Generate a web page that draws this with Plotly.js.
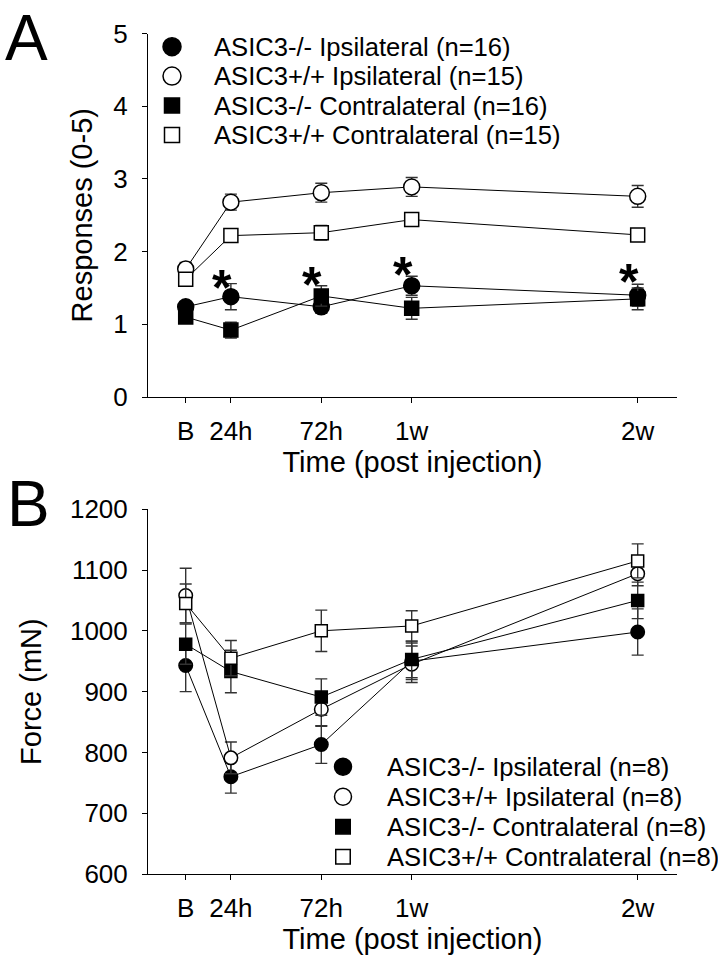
<!DOCTYPE html>
<html><head><meta charset="utf-8">
<script src="https://cdn.plot.ly/plotly-3.0.1.min.js"></script>
<style>html,body{margin:0;padding:0;background:#fff}#chart{width:718px;height:964px}</style>
</head><body><div id="chart"></div>
<script>
// ---------- shared time axis ----------
const timeLabels = ['B', '24h', '72h', '1w', '2w'];
const timePos = [0, 1, 3, 5, 10];

// ---------- Panel A: responses (0-5) ----------
const aNames = ['ASIC3-/- Ipsilateral (n=16)', 'ASIC3+/+ Ipsilateral (n=15)',
                'ASIC3-/- Contralateral (n=16)', 'ASIC3+/+ Contralateral (n=15)'];
const aKoIpsi      = [1.24, 1.38, 1.24, 1.53, 1.40];
const aKoIpsiErr   = [0.07, 0.18, 0.09, 0.13, 0.15];
const aWtIpsi      = [1.76, 2.68, 2.81, 2.89, 2.76];
const aWtIpsiErr   = [0.09, 0.11, 0.13, 0.13, 0.15];
const aKoContra    = [1.10, 0.92, 1.39, 1.22, 1.35];
const aKoContraErr = [0.06, 0.11, 0.14, 0.15, 0.15];
const aWtContra    = [1.62, 2.22, 2.26, 2.44, 2.23];
const aWtContraErr = [0.06, 0.08, 0.10, 0.06, 0.05];
const aStarPos = [1, 3, 5, 10];
const aStarY   = [1.66, 1.70, 1.84, 1.75];

// ---------- Panel B: force (mN) ----------
const bNames = ['ASIC3-/- Ipsilateral (n=8)', 'ASIC3+/+ Ipsilateral (n=8)',
                'ASIC3-/- Contralateral (n=8)', 'ASIC3+/+ Contralateral (n=8)'];
const bKoIpsi      = [943, 760, 813, 950, 998];
const bKoIpsiErr   = [43, 27, 31, 30, 38];
const bWtIpsi      = [1058, 791, 871, 945, 1094];
const bWtIpsiErr   = [45, 26, 28, 30, 20];
const bKoContra    = [978, 933, 891, 953, 1050];
const bKoContraErr = [33, 35, 30, 30, 30];
const bWtContra    = [1045, 955, 1000, 1008, 1115];
const bWtContraErr = [32, 29, 34, 25, 28];

// ---------- styles ----------
const W = 718, H = 964;
const FONT = 'Liberation Sans, Arial, sans-serif';
const symbols = ['circle', 'circle', 'square', 'square'];
const fills = ['#000', '#fff', '#000', '#fff'];

function series(names, vals, errs, xa, ya, circ, sq) {
  return vals.map((v, i) => ({
    type: 'scatter', mode: 'lines+markers', name: names[i],
    x: timePos, y: v, xaxis: xa, yaxis: ya, showlegend: false,
    line: {color: '#000', width: 1},
    marker: {symbol: symbols[i], size: symbols[i] === 'circle' ? circ : sq,
             color: fills[i], line: {color: '#000', width: 1.5}},
    error_y: {type: 'data', array: errs[i], visible: true, color: '#333', thickness: 1.4, width: 6},
    cliponaxis: false
  }));
}

const traces = [].concat(
  series(aNames, [aKoIpsi, aWtIpsi, aKoContra, aWtContra],
         [aKoIpsiErr, aWtIpsiErr, aKoContraErr, aWtContraErr], 'x', 'y', 16, 14),
  series(bNames, [bKoIpsi, bWtIpsi, bKoContra, bWtContra],
         [bKoIpsiErr, bWtIpsiErr, bKoContraErr, bWtContraErr], 'x2', 'y2', 13.5, 12)
);

// ---------- custom legends (layout constants, pixel space overlay) ----------
const legA = {kx: 172, tx: 212, y0: 46.7, dy: 29.4, circ: 18, sq: 15, names: aNames};
const legB = {kx: 343, tx: 385, y0: 766.7, dy: 30, circ: 17, sq: 14.5, names: bNames};
const annotations = [];
[legA, legB].forEach(L => {
  L.names.forEach((nm, i) => {
    traces.push({
      type: 'scatter', mode: 'markers', x: [L.kx], y: [L.y0 + i * L.dy],
      xaxis: 'x3', yaxis: 'y3', showlegend: false, hoverinfo: 'skip',
      marker: {symbol: symbols[i], size: symbols[i] === 'circle' ? L.circ : L.sq,
               color: fills[i], line: {color: '#000', width: 1.5}}
    });
    annotations.push({xref: 'paper', yref: 'paper', x: L.tx / W, y: 1 - (L.y0 + i * L.dy) / H,
      xanchor: 'left', yanchor: 'middle', showarrow: false, text: nm,
      font: {family: FONT, size: 25.6, color: '#000'}});
  });
});

// significance stars (panel A)
aStarPos.forEach((p, i) => {
  annotations.push({xref: 'x', yref: 'y', x: p, y: aStarY[i], text: '<b>*</b>', showarrow: false,
    xanchor: 'center', yanchor: 'middle', xshift: -9, yshift: -12,
    font: {family: FONT, size: 50, color: '#000'}});
});

// panel letters
annotations.push({xref: 'paper', yref: 'paper', x: 26.5 / W, y: 1, text: 'A', showarrow: false,
  xanchor: 'center', yanchor: 'top', font: {family: FONT, size: 64, color: '#000'}});
annotations.push({xref: 'paper', yref: 'paper', x: 28.5 / W, y: 1 - 503.5 / H, text: 'B', showarrow: false,
  xanchor: 'center', yanchor: 'middle', font: {family: FONT, size: 64, color: '#000'}});

function xAxis(anchor) {
  return {
    anchor: anchor, domain: [148 / W, 677 / W], range: [-0.834, 10.87],
    tickmode: 'array', tickvals: timePos, ticktext: timeLabels,
    ticks: 'outside', ticklen: 5, tickwidth: 1, tickcolor: '#000',
    showline: true, linecolor: '#000', linewidth: 1, showgrid: false, zeroline: false,
    tickfont: {family: FONT, size: 26, color: '#000'}, ticklabelstandoff: 6,
    title: {text: 'Time (post injection)', font: {family: FONT, size: 29, color: '#000'}, standoff: 6},
    fixedrange: true, automargin: false
  };
}
function yAxis(anchor, domain, range, dtick, title, standoff) {
  return {
    anchor: anchor, domain: domain, range: range, dtick: dtick, tick0: range[0],
    ticks: 'outside', ticklen: 5, tickwidth: 1, tickcolor: '#000',
    showline: true, linecolor: '#000', linewidth: 1, showgrid: false, zeroline: false,
    tickfont: {family: FONT, size: 26, color: '#000'}, ticklabelstandoff: 9,
    title: {text: title, font: {family: FONT, size: 29, color: '#000'}, standoff: standoff},
    fixedrange: true, automargin: false
  };
}

const layout = {
  width: W, height: H, margin: {l: 0, r: 0, t: 0, b: 0},
  paper_bgcolor: '#fff', plot_bgcolor: 'rgba(0,0,0,0)', showlegend: false,
  font: {family: FONT, color: '#000'},
  xaxis: xAxis('y'),
  yaxis: yAxis('x', [1 - 397 / H, 1 - 33.5 / H], [0, 5], 1, 'Responses (0-5)', 12),
  xaxis2: xAxis('y2'),
  yaxis2: yAxis('x2', [1 - 874 / H, 1 - 509.2 / H], [600, 1200], 100, 'Force (mN)', 19),
  xaxis3: {anchor: 'y3', domain: [0, 1], range: [0, W], visible: false, fixedrange: true},
  yaxis3: {anchor: 'x3', domain: [0, 1], range: [H, 0], visible: false, fixedrange: true},
  annotations: annotations
};

Plotly.newPlot('chart', traces, layout, {staticPlot: true, displayModeBar: false});
</script></body></html>
